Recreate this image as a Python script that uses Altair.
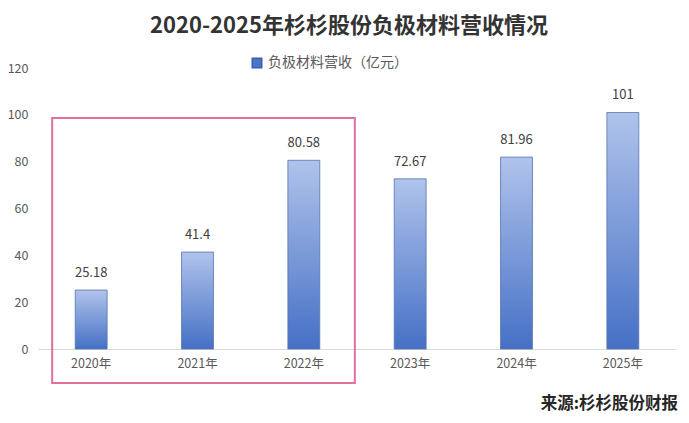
import altair as alt
import pandas as pd

years = ["2020年", "2021年", "2022年", "2023年", "2024年", "2025年"]
revenue = [25.18, 41.4, 80.58, 72.67, 81.96, 101]
labels = ["25.18", "41.4", "80.58", "72.67", "81.96", "101"]
series_name = "负极材料营收（亿元）"

df = pd.DataFrame({"year": years, "revenue": revenue, "label": labels, "series": [series_name] * len(years)})

FONT = "Noto Sans CJK SC"

xscale = alt.Scale(domain=years, paddingInner=0.7, paddingOuter=0.35)
yscale = alt.Scale(domain=[0, 120], nice=False)

gradient = alt.Gradient(
    gradient="linear",
    x1=0, y1=0, x2=0, y2=1,
    stops=[alt.GradientStop(color="#b0c3eb", offset=0),
           alt.GradientStop(color="#4570c6", offset=1)],
)

bars = alt.Chart(df).mark_bar(fill=gradient, stroke="#5573b0", strokeWidth=0.8).encode(
    x=alt.X("year:N", scale=xscale, sort=years,
            axis=alt.Axis(title=None, labelAngle=0, ticks=False, domainColor="#d9d9d9",
                          labelColor="#595959", labelFontSize=12.5, labelFont=FONT, labelPadding=8)),
    y=alt.Y("revenue:Q", scale=yscale,
            axis=alt.Axis(title=None, values=[0, 20, 40, 60, 80, 100, 120], grid=False, domain=False,
                          ticks=False, labelColor="#595959", labelFontSize=12.5, labelFont=FONT, labelPadding=10)),
    color=alt.Color("series:N", scale=alt.Scale(range=["#4a74c8"]),
                    legend=alt.Legend(title=None, orient="none", legendX=212, legendY=-12,
                                      symbolType="square", symbolSize=90, symbolStrokeColor="#3a5ea8",
                                      labelFont=FONT, labelFontSize=14, labelColor="#595959")),
)

text = alt.Chart(df).mark_text(dy=-17, font=FONT, fontSize=13, color="#404040").encode(
    x=alt.X("year:N", scale=xscale, sort=years),
    y=alt.Y("revenue:Q", scale=yscale),
    text="label:N",
)

box_df = pd.DataFrame({"x": ["2020年"], "x2": ["2022年"], "y": [98.6], "y2": [-14.5]})
box = alt.Chart(box_df).mark_rect(fill=None, stroke="#e0709e", strokeWidth=2, clip=False,
                                  xOffset=-39, x2Offset=51).encode(
    x=alt.X("x:N", scale=xscale, sort=years, bandPosition=0.5),
    x2=alt.X2("x2"),
    y=alt.Y("y:Q", scale=yscale),
    y2="y2:Q",
)

src_df = pd.DataFrame({"t": ["来源:杉杉股份财报"]})
source = alt.Chart(src_df).mark_text(font=FONT, fontSize=16.5, fontWeight="bold", color="#262626",
                                     align="right", baseline="middle").encode(
    x=alt.value(640), y=alt.value(336), text="t:N")

chart = alt.layer(bars, text, box, source).properties(
    width=638, height=281,
    padding={"left": 30, "top": 60, "right": 5, "bottom": 70},
    autosize=alt.AutoSizeParams(type="none"),
    title=alt.TitleParams("2020-2025年杉杉股份负极材料营收情况", font=FONT, fontSize=22, fontWeight="bold",
                          color="#333333", anchor="middle", offset=18, dx=-8),
).configure_view(stroke=None)

chart.save("out.html", embed_options={"renderer": "svg", "actions": False})
